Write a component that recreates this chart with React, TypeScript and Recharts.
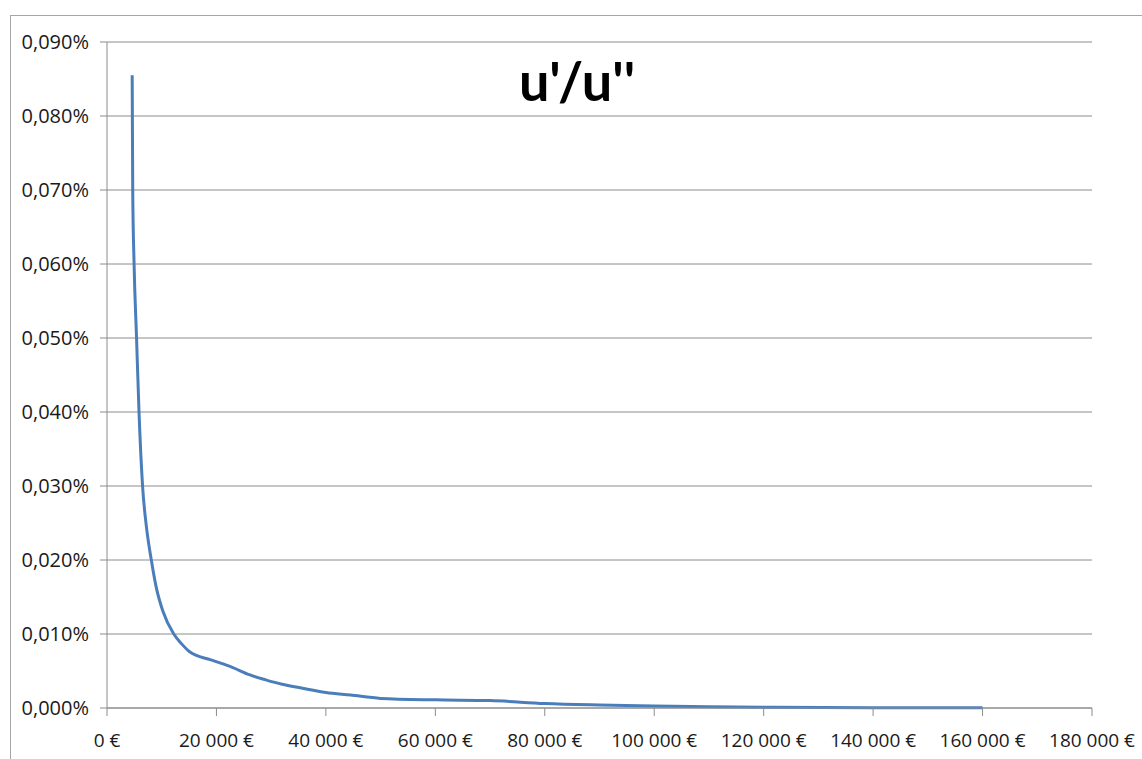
import React from "react";
import { LineChart, Line, XAxis, YAxis, CartesianGrid } from "recharts";

const incomes = [4600, 4700, 4950, 5400, 5850, 6500, 7200, 8100, 9000, 10200, 12200, 13600, 15100, 19000, 22900, 26000, 29000, 32000, 35500, 40000, 44500, 50000, 60000, 70000, 80000, 90000, 100000, 110000, 120000, 140000, 160000];
const ratioPct = [0.0855, 0.07, 0.06, 0.05, 0.04, 0.03, 0.0245, 0.02, 0.0163, 0.0131, 0.01, 0.0087, 0.0076, 0.0065, 0.0055, 0.0045, 0.0038, 0.0032, 0.0027, 0.0021, 0.00175, 0.0013, 0.0011, 0.001, 0.0006, 0.0004, 0.00027, 0.00017, 0.0001, 0.00003, 0.00002];
const xTicks = [0, 20000, 40000, 60000, 80000, 100000, 120000, 140000, 160000, 180000];
const yTicks = [0, 0.01, 0.02, 0.03, 0.04, 0.05, 0.06, 0.07, 0.08, 0.09];
const title = "u'/u''";

const data = incomes.map((x, i) => ({ x, y: ratioPct[i] }));

const fmtX = (v: number) => {
  if (v === 0) return "0 €";
  const s = String(v);
  const head = s.slice(0, s.length - 3);
  return head + " " + s.slice(-3) + " €";
};
const fmtY = (v: number) => v.toFixed(3).replace(".", ",") + "%";

const FONT = "'Open Sans', Lato, sans-serif";

export default function App() {
  return (
    <div style={{ position: "absolute", left: 0, top: 0, width: 1142, height: 759, background: "#fff", overflow: "hidden" }}>
      <div style={{ position: "absolute", left: 10, top: 15, width: 1140, height: 800, border: "1px solid #a6a6a6", boxSizing: "border-box" }} />
      <div style={{ position: "absolute", left: 0, top: 0 }}>
        <LineChart width={1142} height={759} data={data} margin={{ top: 42, right: 50, bottom: 4, left: 47 }}>
          <CartesianGrid vertical={false} stroke="#8c8c8c" strokeWidth={1} />
          <XAxis
            dataKey="x"
            type="number"
            domain={[0, 180000]}
            ticks={xTicks}
            tickFormatter={fmtX}
            interval={0}
            height={47}
            tickSize={8}
            tickMargin={18}
            stroke="#8c8c8c"
            tick={{ fill: "#1a1a1a", fontSize: 19, fontFamily: FONT }}
          />
          <YAxis
            type="number"
            domain={[0, 0.09]}
            ticks={yTicks}
            tickFormatter={fmtY}
            interval={0}
            width={60}
            tickSize={7}
            tickMargin={11}
            stroke="#8c8c8c"
            tick={{ fill: "#1a1a1a", fontSize: 20, fontFamily: FONT }}
          />
          <Line dataKey="y" type="monotone" stroke="#4a7ebb" strokeWidth={3} dot={false} isAnimationActive={false} />
          <text x={577} y={101} textAnchor="middle" fontSize={54} fontWeight={700} fontFamily="Lato, sans-serif" fill="#000">{title}</text>
        </LineChart>
      </div>
    </div>
  );
}
